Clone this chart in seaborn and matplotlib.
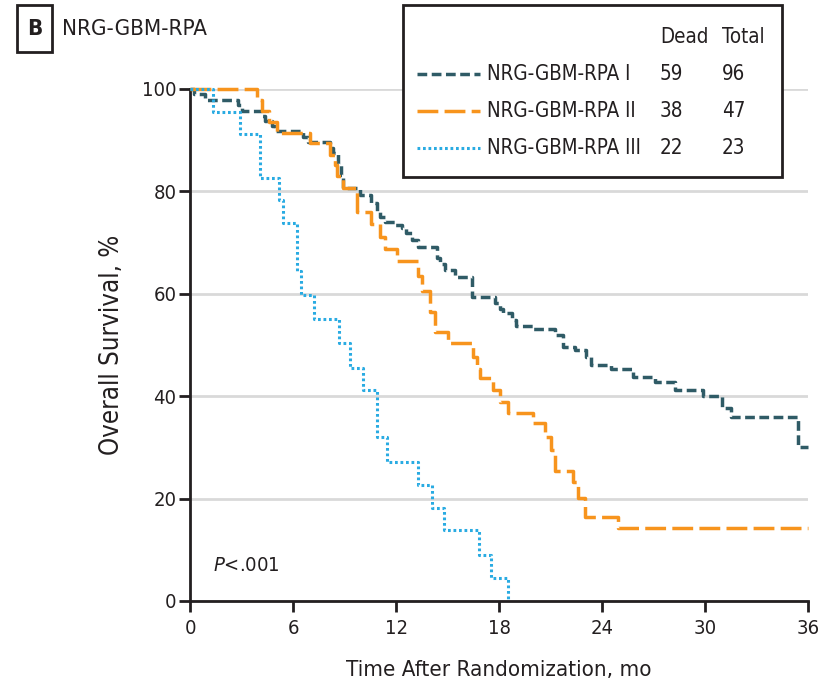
import numpy as np
import pandas as pd
import matplotlib
matplotlib.use("Agg")
import matplotlib.pyplot as plt
import seaborn as sns
from matplotlib.patches import Rectangle
from matplotlib.lines import Line2D
from matplotlib import font_manager as fm

# ---------------- data ----------------
groups = ["NRG-GBM-RPA I", "NRG-GBM-RPA II", "NRG-GBM-RPA III"]
dead = [59, 38, 22]
total = [96, 47, 23]

t_I = [0, 0.2, 0.85, 2.8, 3.0, 4.16, 4.35, 4.74, 4.93, 6.58, 6.87, 8.14, 8.33,
       8.62, 8.81, 8.91, 9.88, 10.56, 10.86, 11.05, 11.34, 11.92, 12.31, 12.6,
       12.9, 13.28, 14.35, 14.54, 14.83, 15.42, 16.39, 17.75, 18.04, 18.23,
       18.72, 19.01, 19.98, 21.24, 21.72, 22.4, 23.09, 23.38, 24.54, 25.8,
       27.07, 28.23, 29.88, 31.0, 31.53, 35.41, 36]
s_I = [100, 99.0, 97.9, 96.9, 95.8, 94.8, 93.8, 92.7, 91.7, 90.6, 89.6, 88.5, 87.5,
       85.4, 83.3, 80.6, 79.3, 77.7, 76.0, 75.0, 74.1, 73.4, 72.8, 71.8,
       70.5, 69.1, 66.9, 65.9, 64.6, 63.3, 59.4, 58.3, 57.1, 56.2,
       54.9, 53.7, 53.2, 52.0, 49.7, 49.0, 47.7, 46.1, 45.3, 43.8,
       42.8, 41.2, 40.0, 37.6, 35.9, 30.1, 30.1]

t_II = [0, 3.87, 4.16, 4.6, 5.03, 6.97, 8.14, 8.45, 8.53, 8.9, 9.69, 10.56, 11.05,
        11.34, 12.02, 13.28, 13.5, 13.96, 14.25, 15.03, 16.48, 16.7, 16.9, 17.65,
        18.04, 18.52, 19.98, 20.67, 21.05, 21.24, 22.3, 22.6, 22.99, 24.93, 36]
s_II = [100, 97.9, 95.7, 93.6, 91.5, 89.4, 87.2, 85.1, 83.0, 80.6, 76.0, 73.6, 71.0,
        68.7, 66.4, 63.5, 60.5, 56.5, 52.6, 50.3, 47.7, 45.4, 43.5, 41.2,
        38.9, 36.7, 34.7, 32.1, 29.5, 25.3, 23.3, 20.1, 16.5, 14.2, 14.2]

t_III = [0, 1.34, 2.9, 4.06, 5.17, 5.42, 6.2, 6.43, 7.2, 8.68, 9.3, 10.08, 10.86,
         11.47, 13.28, 14.06, 14.78, 16.83, 17.5, 18.52]
s_III = [100, 95.6, 91.3, 82.6, 78.3, 73.9, 64.5, 59.8, 55.0, 50.3, 45.6, 41.2, 32.1,
         27.2, 22.7, 18.1, 13.9, 9.0, 4.4, 0]

x_ticks = [0, 6, 12, 18, 24, 30, 36]
y_ticks = [0, 20, 40, 60, 80, 100]

# ---------------- style ----------------
sns.set_theme(style="white")
plt.rcParams["font.family"] = ["DejaVu Sans"]
plt.rcParams["font.stretch"] = "condensed"

_cond = fm.findfont(fm.FontProperties(family="DejaVu Sans", stretch="condensed"))
K = 1.0 if "ondensed" in _cond else 0.86

TXT = "#231f20"
colors = {groups[0]: "#2f5b66", groups[1]: "#f7941d", groups[2]: "#29abe2"}
dash_map = {groups[0]: (2.8, 1.3), groups[1]: (6.0, 1.8), groups[2]: (0.9, 0.9)}
lws = {groups[0]: 2.5, groups[1]: 2.5, groups[2]: 2.2}

df = pd.concat([
    pd.DataFrame({"t": t_I, "s": s_I, "group": groups[0]}),
    pd.DataFrame({"t": t_II, "s": s_II, "group": groups[1]}),
    pd.DataFrame({"t": t_III, "s": s_III, "group": groups[2]}),
], ignore_index=True)

W, H = 833, 690
fig = plt.figure(figsize=(W / 100, H / 100), dpi=100)
ax = fig.add_axes([190.3 / W, 1 - 601 / H, (808 - 190.3) / W, (601 - 89) / H])

sns.lineplot(data=df, x="t", y="s", hue="group", style="group",
             palette=colors, dashes=dash_map, drawstyle="steps-post",
             estimator=None, sort=False, lw=2.5, legend=False, ax=ax)
for line, g in zip(ax.get_lines(), groups):
    line.set_clip_on(False)
    line.set_linewidth(lws[g])
    line.set_zorder(3)

ax.set_xlim(0, 36)
ax.set_ylim(0, 100)
ax.set_xticks(x_ticks)
ax.set_yticks(y_ticks)
ax.yaxis.grid(True, color="#d9d9d9", lw=2)
ax.xaxis.grid(False)
ax.set_axisbelow(True)
for side in ["top", "right"]:
    ax.spines[side].set_visible(False)
for side in ["left", "bottom"]:
    ax.spines[side].set_color(TXT)
    ax.spines[side].set_linewidth(2)
ax.tick_params(axis="both", direction="out", length=8, width=2, color=TXT,
               labelsize=14.5 * K, labelcolor=TXT, left=True, bottom=True)
ax.tick_params(axis="y", pad=2)
ax.tick_params(axis="x", pad=5)
ax.set_xlabel("Time After Randomization, mo", fontsize=16 * K, color=TXT, labelpad=16)
ax.set_ylabel("Overall Survival, %", fontsize=18.5 * K, color=TXT, labelpad=12)

ax.text(1.3, 7, "$P$<.001", fontsize=14.5 * K, color=TXT, va="center", ha="left")

# ---------------- panel title ----------------
def fx(x):
    return x / W

def fy(y):
    return 1 - y / H

fig.add_artist(Rectangle((fx(17), fy(52)), fx(52) - fx(17), fy(5) - fy(52),
                         transform=fig.transFigure, fill=False, ec=TXT, lw=2))
fig.text(fx(35), fy(29), "B", fontsize=16 * K, fontweight="bold", color=TXT,
         ha="center", va="center")
fig.text(fx(62), fy(29), "NRG-GBM-RPA", fontsize=16 * K, color=TXT,
         ha="left", va="center")

# ---------------- legend table ----------------
fig.add_artist(Rectangle((fx(403), fy(177)), fx(782) - fx(403), fy(5) - fy(177),
                         transform=fig.transFigure, fill=True, fc="white",
                         ec=TXT, lw=2, zorder=5))
fs_leg = 14.8 * K
fig.text(fx(660), fy(37), "Dead", fontsize=fs_leg, color=TXT, ha="left", va="center", zorder=6)
fig.text(fx(722), fy(37), "Total", fontsize=fs_leg, color=TXT, ha="left", va="center", zorder=6)
row_y = [74, 111, 148]
for g, d, n, yy in zip(groups, dead, total, row_y):
    ln = Line2D([fx(417), fx(480)], [fy(yy), fy(yy)], transform=fig.transFigure,
                color=colors[g], lw=lws[g], zorder=6)
    ln.set_dashes(dash_map[g])
    fig.add_artist(ln)
    fig.text(fx(487), fy(yy), g, fontsize=fs_leg, color=TXT, ha="left", va="center", zorder=6)
    fig.text(fx(660), fy(yy), str(d), fontsize=fs_leg, color=TXT, ha="left", va="center", zorder=6)
    fig.text(fx(722), fy(yy), str(n), fontsize=fs_leg, color=TXT, ha="left", va="center", zorder=6)

fig.savefig("out.png", dpi=100)
